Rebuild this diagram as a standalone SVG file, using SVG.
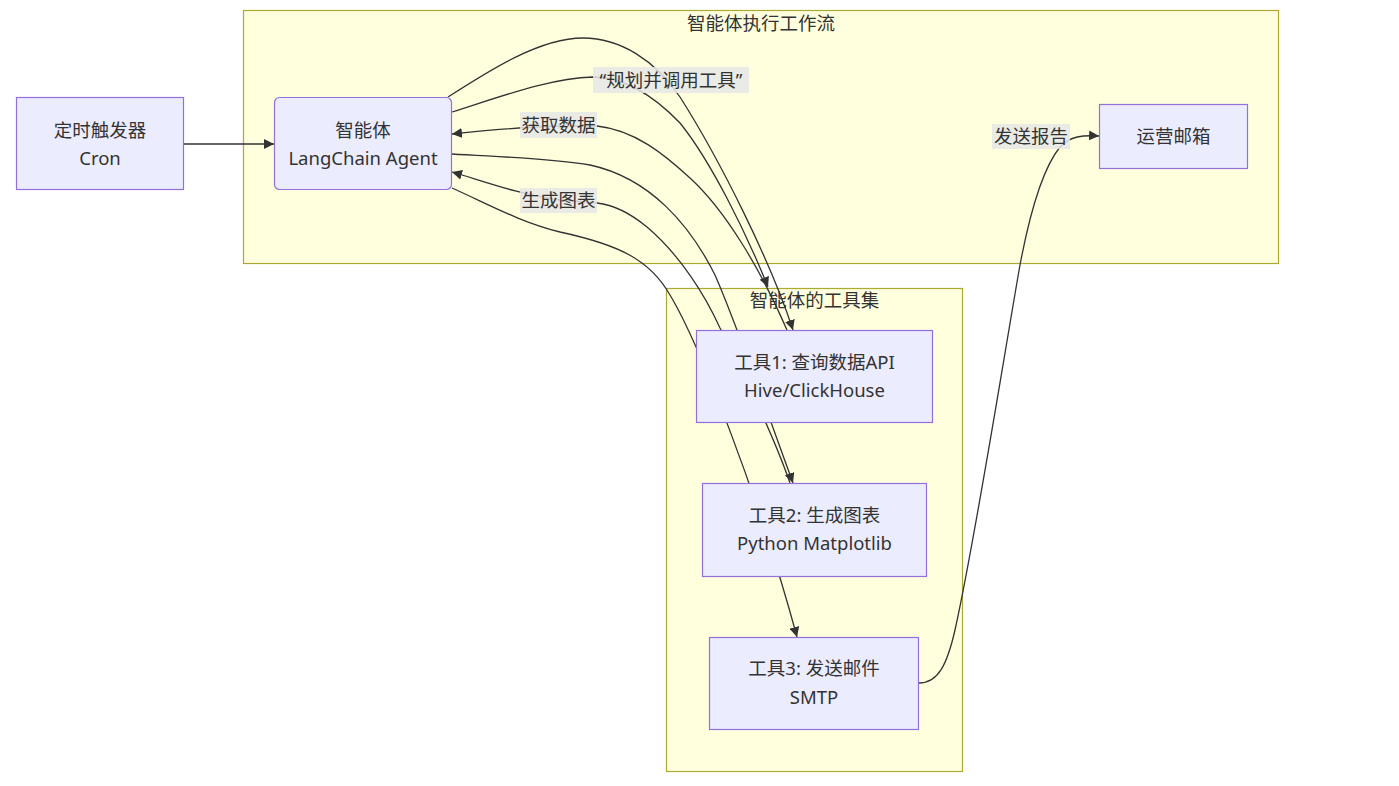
<svg xmlns="http://www.w3.org/2000/svg" width="1399" height="786" viewBox="0 0 1399 786">
<style>
  text { font-family: "Noto Sans", "Noto Sans CJK SC", sans-serif; font-size: 18.5px; fill: #333333; text-anchor: middle; }
  .cluster { fill: #ffffde; stroke: #aaaa33; stroke-width: 1.2; }
  .node { fill: #ececff; stroke: #9370db; stroke-width: 1.2; }
  .edge { fill: none; stroke: #333333; stroke-width: 1.3; }
  .arrow { marker-end: url(#arrowhead); }
  .lbl { fill: #e8e8e8; fill-opacity: 0.85; }
</style>
<defs>
  <marker id="arrowhead" viewBox="0 0 10 10" refX="10" refY="5" markerUnits="userSpaceOnUse" markerWidth="10" markerHeight="10" orient="auto">
    <path d="M0,0 L10,5 L0,10 z" fill="#333333"/>
  </marker>
</defs>
<rect width="1399" height="786" fill="#ffffff"/>

<g id="cluster-workflow">
  <rect class="cluster" x="243.5" y="10.5" width="1035" height="253"/>
  <text x="761" y="29.5">智能体执行工作流</text>
</g>
<g id="cluster-tools">
  <rect class="cluster" x="666.5" y="288.5" width="296" height="483"/>
  <text x="814.5" y="307">智能体的工具集</text>
</g>

<g id="connectors">
  <path class="edge arrow" d="M184,144 L274,144"/>
  <path class="edge arrow" d="M448,97 C490,70 540,38 583,38 C620,38 655,60 680,97 C720,160 770,260 793,330"/>
  <path class="edge arrow" d="M452,112 C500,97 550,78 593,77 C625,77 655,97 680,123 C710,160 745,230 768,287"/>
  <path class="edge arrow" d="M787,330 C760,268 725,210 690,178 C665,155 635,130 597,126 L560,126 C520,127 480,131 452,134"/>
  <path class="edge arrow" d="M452,154 C500,157 550,158 590,165 C650,178 690,225 715,275 C735,320 770,420 793,483"/>
  <path class="edge arrow" d="M790,483 C775,440 745,375 720,328 C705,295 680,255 647,227 C630,213 615,205 597,203 L560,200 C520,195 480,180 452,172"/>
  <path class="edge arrow" d="M452,188 C490,205 520,222 560,232 C620,245 650,260 670,295 C700,345 760,500 797,637"/>
  <path class="edge arrow" d="M919,683 C938,683 947,665 955,630 C975,540 1005,350 1020,265 C1030,212 1043,168 1060,147 C1070,136 1083,135 1099,136"/>
</g>

<g id="edge-labels">
  <g id="label-plan">
    <rect class="lbl" x="593" y="67" width="156" height="26"/>
    <text x="671" y="86.5">“规划并调用工具”</text>
  </g>
  <g id="label-fetch">
    <rect class="lbl" x="520" y="112" width="77" height="26"/>
    <text x="558.5" y="131.5">获取数据</text>
  </g>
  <g id="label-chart">
    <rect class="lbl" x="520" y="188" width="77" height="25"/>
    <text x="558.5" y="207">生成图表</text>
  </g>
  <g id="label-send">
    <rect class="lbl" x="992" y="124" width="78" height="25"/>
    <text x="1031" y="143">发送报告</text>
  </g>
</g>

<g id="node-cron">
  <rect class="node" x="16.5" y="97.5" width="167" height="92"/>
  <text x="100" y="136.5">定时触发器</text>
  <text x="100" y="164.5">Cron</text>
</g>
<g id="node-agent">
  <rect class="node" x="274.5" y="97.5" width="177" height="92" rx="5" ry="5"/>
  <text x="363" y="136.5">智能体</text>
  <text x="363" y="164.5">LangChain Agent</text>
</g>
<g id="node-mail">
  <rect class="node" x="1099.5" y="104.5" width="148" height="64"/>
  <text x="1173.5" y="142.5">运营邮箱</text>
</g>
<g id="node-tool1">
  <rect class="node" x="696.5" y="330.5" width="236" height="92"/>
  <text x="814.5" y="368.5">工具1: 查询数据API</text>
  <text x="814.5" y="396.5">Hive/ClickHouse</text>
</g>
<g id="node-tool2">
  <rect class="node" x="702.5" y="483.5" width="224" height="93"/>
  <text x="814.5" y="521.5">工具2: 生成图表</text>
  <text x="814.5" y="550">Python Matplotlib</text>
</g>
<g id="node-tool3">
  <rect class="node" x="709.5" y="637.5" width="209" height="92"/>
  <text x="814" y="675">工具3: 发送邮件</text>
  <text x="814" y="703.5">SMTP</text>
</g>
</svg>
